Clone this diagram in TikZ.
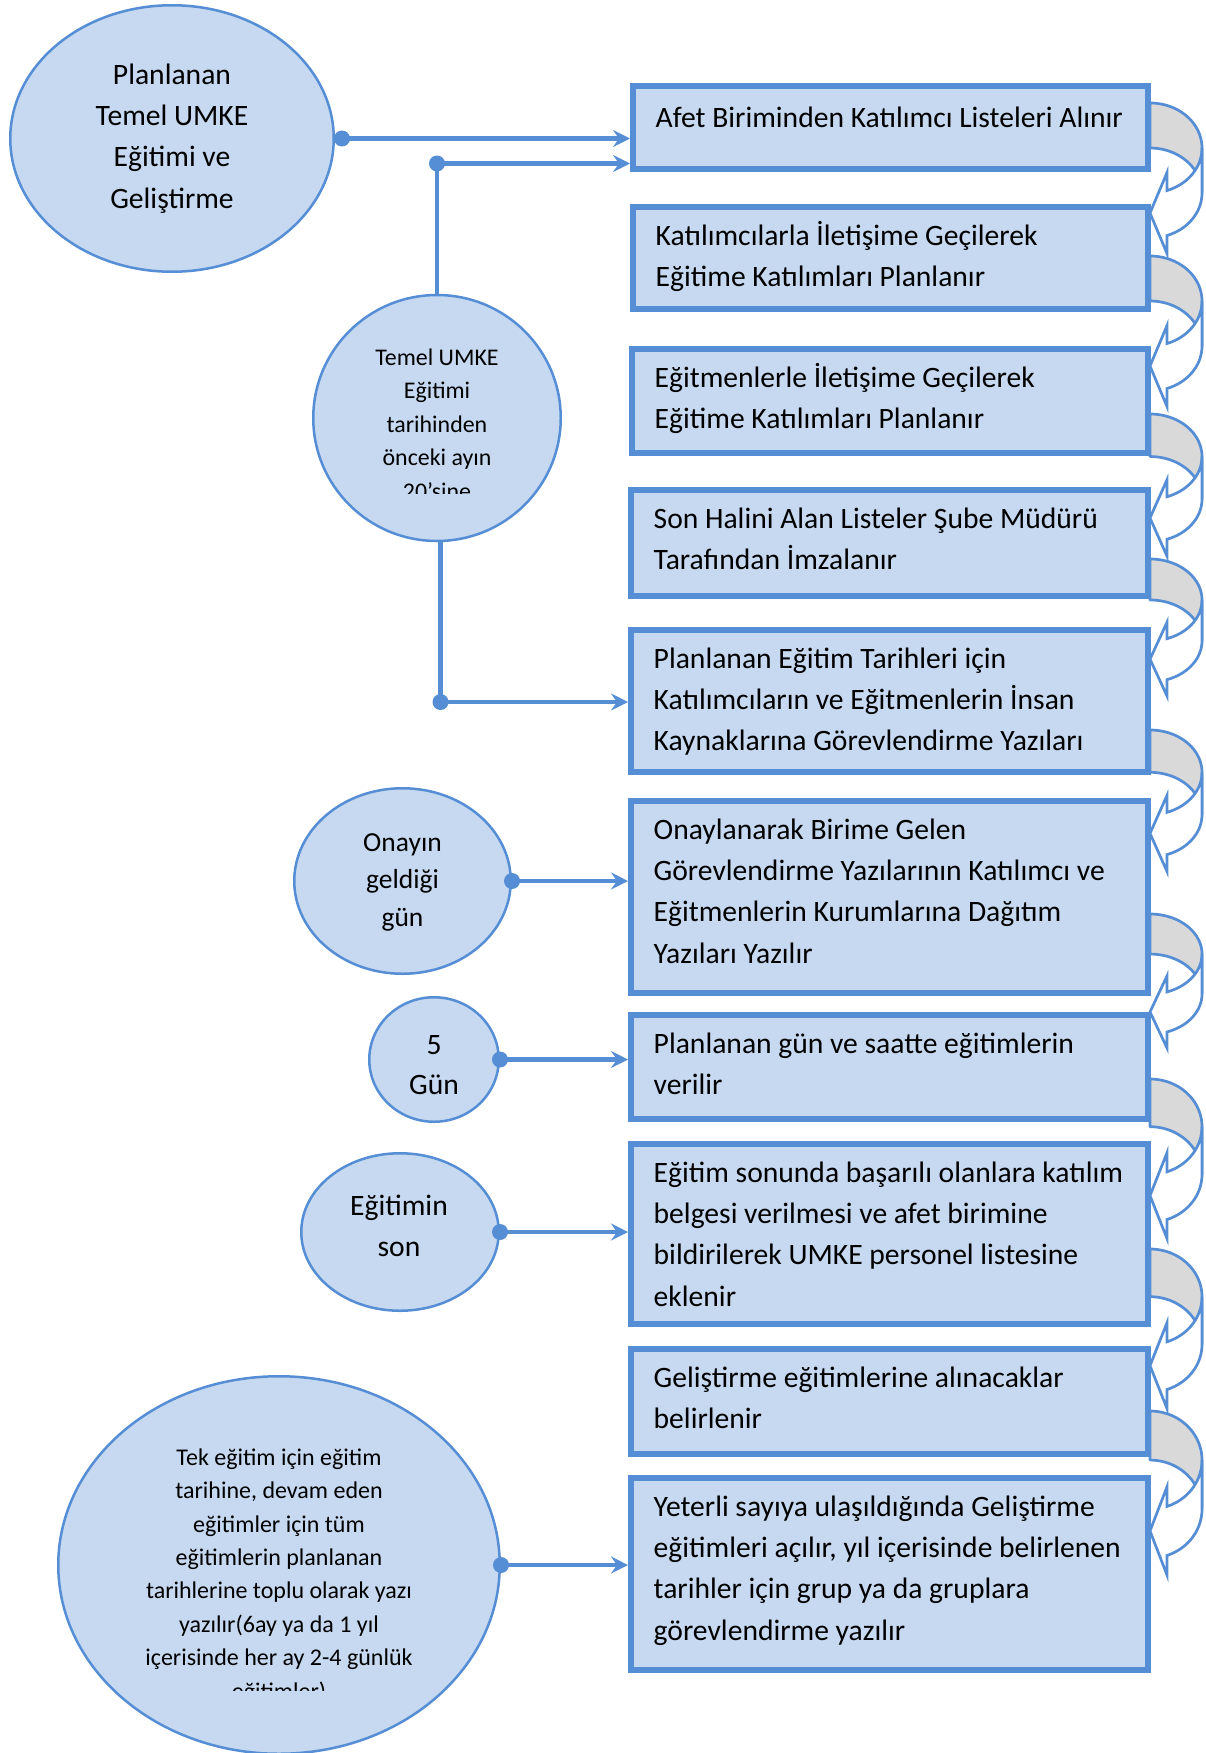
\documentclass[tikz,border=0pt]{standalone}
\usepackage{fontspec}
\setmainfont{Carlito}
\usetikzlibrary{shapes.geometric,arrows.meta,calc}
\definecolor{bfill}{HTML}{C6D9F1}
\definecolor{bline}{HTML}{558ED5}
\definecolor{agray}{HTML}{D9D9D9}
\tikzset{
 box/.style={draw=bline, fill=bfill, line width=6pt, rectangle, inner sep=0pt},
 oval/.style={draw=bline, fill=bfill, line width=2.5pt, ellipse, inner sep=0pt},
 btext/.style={anchor=north west, inner sep=0pt, align=left, font=\fontsize{29.6}{41.3}\selectfont},
 ctext/.style={anchor=north, inner sep=0pt, align=center},
 conn/.style={draw=bline, line width=4.5pt, -{Stealth[length=17pt,width=17pt,inset=6pt]}},
 plainline/.style={draw=bline, line width=4.5pt},
 backarr/.style={draw=bline, fill=agray, line width=2.7pt, line join=round},
 frontarr/.style={draw=bline, fill=white, line width=2.7pt, line join=miter},
}
\newcommand{\curvarrow}[2]{%
 \pgfmathsetmacro{\cvR}{45*#2}%
 \pgfmathsetmacro{\cvA}{#1+\cvR}%
 \pgfmathsetmacro{\cvB}{#1+2*\cvR}%
 \pgfmathsetmacro{\cvU}{\cvA+0.945*\cvR}%
 \pgfmathsetmacro{\cvL}{\cvB+0.945*\cvR}%
 \pgfmathsetmacro{\cvD}{18*#2}%
 \pgfmathsetmacro{\cvT}{(\cvU+\cvL)/2}%
 \pgfmathsetmacro{\cvUb}{\cvU-\cvD}%
 \pgfmathsetmacro{\cvLb}{\cvL+\cvD}%
 \draw[backarr] plot[domain=-90:0,samples=25,variable=\ang] ({1150+52*cos(\ang)},{\cvA+\cvR*sin(\ang)}) -- plot[domain=0:-90,samples=25,variable=\ang] ({1150+52*cos(\ang)},{\cvB+\cvR*sin(\ang)}) -- cycle;
 \draw[frontarr] plot[domain=0:70.9,samples=25,variable=\ang] ({1150+52*cos(\ang)},{\cvA+\cvR*sin(\ang)}) -- (1167,\cvUb) -- (1150,\cvT) -- (1167,\cvLb) -- plot[domain=70.9:0,samples=25,variable=\ang] ({1150+52*cos(\ang)},{\cvB+\cvR*sin(\ang)}) -- cycle;
}
\begin{document}
\begin{tikzpicture}[x=1pt,y=-1pt]
\useasboundingbox (0,0) rectangle (1205,1753);
\fill[white] (0,0) rectangle (1205,1753);

% curved arrows between boxes
\curvarrow{103}{1.0}
\curvarrow{256}{1.0}
\curvarrow{414}{0.945}
\curvarrow{559}{0.91}
\curvarrow{730}{0.94}
\curvarrow{914}{0.89}
\curvarrow{1079}{1.06}
\curvarrow{1249}{1.06}
\curvarrow{1411}{1.09}

% boxes
\node[box, minimum width=515pt, minimum height=83pt] (b1) at (890.5,127.5) {};
\node[box, minimum width=515pt, minimum height=102pt] (b2) at (890.5,258) {};
\node[box, minimum width=516pt, minimum height=104pt] (b3) at (890,401) {};
\node[box, minimum width=517pt, minimum height=106pt] (b4) at (889.5,543) {};
\node[box, minimum width=517pt, minimum height=142pt] (b5) at (889.5,701) {};
\node[box, minimum width=517pt, minimum height=192pt] (b6) at (889.5,897) {};
\node[box, minimum width=517pt, minimum height=104pt] (b7) at (889.5,1067) {};
\node[box, minimum width=517pt, minimum height=180pt] (b8) at (889.5,1234) {};
\node[box, minimum width=517pt, minimum height=105pt] (b9) at (889.5,1401.5) {};
\node[box, minimum width=517pt, minimum height=192pt] (b10) at (889.5,1574) {};

\node[btext] (tb1) at ([xshift=25.5pt,yshift=-15pt]b1.north west) {\strut Afet Biriminden Katılımcı Listeleri Alınır};
\node[btext] (tb2) at ([xshift=25.5pt,yshift=-12pt]b2.north west) {\strut Katılımcılarla İletişime Geçilerek\\\strut Eğitime Katılımları Planlanır};
\node[btext] (tb3) at ([xshift=25.5pt,yshift=-12pt]b3.north west) {\strut Eğitmenlerle İletişime Geçilerek\\\strut Eğitime Katılımları Planlanır};
\node[btext] (tb4) at ([xshift=25.5pt,yshift=-12pt]b4.north west) {\strut Son Halini Alan Listeler Şube Müdürü\\\strut Tarafından İmzalanır};
\node[btext] (tb5) at ([xshift=25.5pt,yshift=-12pt]b5.north west) {\strut Planlanan Eğitim Tarihleri için\\\strut Katılımcıların ve Eğitmenlerin İnsan\\\strut Kaynaklarına Görevlendirme Yazıları};
\node[btext] (tb6) at ([xshift=25.5pt,yshift=-12pt]b6.north west) {\strut Onaylanarak Birime Gelen\\\strut Görevlendirme Yazılarının Katılımcı ve\\\strut Eğitmenlerin Kurumlarına Dağıtım\\\strut Yazıları Yazılır};
\node[btext] (tb7) at ([xshift=25.5pt,yshift=-12pt]b7.north west) {\strut Planlanan gün ve saatte eğitimlerin\\\strut verilir};
\node[btext] (tb8) at ([xshift=25.5pt,yshift=-12pt]b8.north west) {\strut Eğitim sonunda başarılı olanlara katılım\\\strut belgesi verilmesi ve afet birimine\\\strut bildirilerek UMKE personel listesine\\\strut eklenir};
\node[btext] (tb9) at ([xshift=25.5pt,yshift=-12pt]b9.north west) {\strut Geliştirme eğitimlerine alınacaklar\\\strut belirlenir};
\node[btext] (tb10) at ([xshift=25.5pt,yshift=-12pt]b10.north west) {\strut Yeterli sayıya ulaşıldığında Geliştirme\\\strut eğitimleri açılır, yıl içerisinde belirlenen\\\strut tarihler için grup ya da gruplara\\\strut görevlendirme yazılır};

% ellipses
\node[oval, minimum width=323.5pt, minimum height=266.5pt] (e1) at (172,138.5) {};
\node[oval, minimum width=247.5pt, minimum height=246pt] (c2) at (437,418) {};
\node[oval, minimum width=216.5pt, minimum height=185.5pt] (e3) at (402.5,881) {};
\node[oval, minimum width=129.5pt, minimum height=124.5pt] (e4) at (434,1059.5) {};
\node[oval, minimum width=197.5pt, minimum height=157.5pt] (e5) at (400,1232) {};
\node[oval, minimum width=441.5pt, minimum height=377.5pt] (e6) at (279,1565) {};

\node[ctext, font=\fontsize{29.6}{41.3}\selectfont] (te1) at (172,55) {\strut Planlanan\\\strut Temel UMKE\\\strut Eğitimi ve\\\strut Geliştirme};
\begin{scope}
\clip (310,290) rectangle (565,493.5);
\node[ctext, font=\fontsize{23.9}{33.5}\selectfont] (tc2) at (437,341.5) {\strut Temel UMKE\\\strut Eğitimi\\\strut tarihinden\\\strut önceki ayın\\\strut 20’sine};
\end{scope}
\node[ctext, font=\fontsize{27.5}{37.5}\selectfont] (te3) at (402.5,824.7) {\strut Onayın\\\strut geldiği\\\strut gün};
\node[ctext, font=\fontsize{29.6}{40}\selectfont] (te4) at (434,1026) {\strut 5\\\strut Gün};
\node[ctext, font=\fontsize{29.6}{41.5}\selectfont] (te5) at (399,1186) {\strut Eğitimin\\\strut son};
\begin{scope}
\clip (50,1370) rectangle (510,1690);
\node[ctext, font=\fontsize{24}{33.4}\selectfont] (te6) at (279,1441.6) {\strut Tek eğitim için eğitim\\\strut tarihine, devam eden\\\strut eğitimler için tüm\\\strut eğitimlerin planlanan\\\strut tarihlerine toplu olarak yazı\\\strut yazılır(6ay ya da 1 yıl\\\strut içerisinde her ay 2-4 günlük\\\strut eğitimler)};
\end{scope}

% connectors
\coordinate (j0) at ([xshift=7pt]e1.east);
\coordinate (j1) at (437,163.5);
\coordinate (j2) at (440.5,702);
\draw[conn] (j0) -- (j0 -| b1.west);
\draw[plainline] (c2.north) -- (j1);
\draw[conn] (j1) -- (j1 -| b1.west);
\draw[plainline] (c2.south -| j2) -- (j2);
\draw[conn] (j2) -- (j2 -| b5.west);
\draw[conn] (e3.east) -- (e3.east -| b6.west);
\draw[conn] (e4.east) -- (e4.east -| b7.west);
\draw[conn] (e5.east) -- (e5.east -| b8.west);
\draw[conn] (e6.east) -- (e6.east -| b10.west);
\foreach \p in {j0,j1,j2,e3.east,e4.east,e5.east,e6.east}
  \fill[bline] (\p) circle[radius=8pt];
\end{tikzpicture}
\end{document}
